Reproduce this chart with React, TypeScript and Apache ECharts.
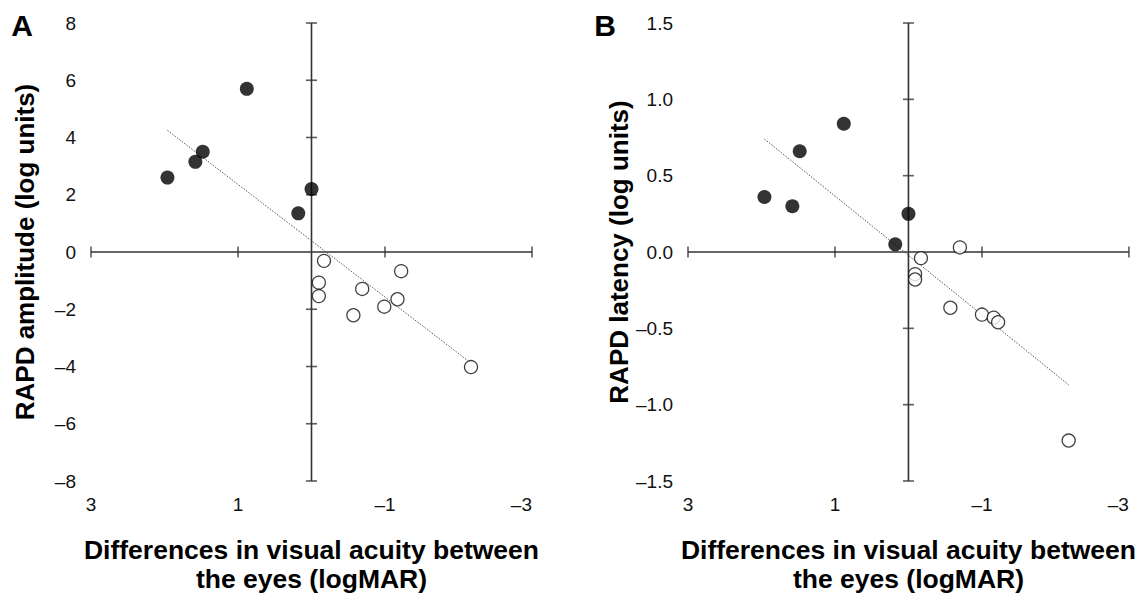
import React, { useEffect, useRef } from "react";
import * as echarts from "echarts";

// Tick values
const xTickValues = [3, 1, -1, -3];
const ampTickValues = [8, 6, 4, 2, -2, -4, -6, -8];
const latTickValues = [1.5, 1.0, 0.5, -0.5, -1.0, -1.5];

// Filled circles (same eyes in both panels)
const filledVA = [1.96, 1.58, 1.48, 0.88, 0.18, 0.0];
const filledAmp = [2.6, 3.15, 3.5, 5.7, 1.35, 2.2];
const filledLat = [0.36, 0.3, 0.66, 0.84, 0.05, 0.25];

// Open circles
const hollowVA_A = [-0.17, -1.22, -0.1, -0.1, -0.69, -1.17, -0.99, -0.57, -2.17];
const hollowAmp = [-0.31, -0.67, -1.07, -1.54, -1.29, -1.65, -1.91, -2.21, -4.02];
const hollowVA_B = [-0.7, -0.17, -0.09, -0.09, -0.57, -1.0, -1.16, -1.22, -2.18];
const hollowLat = [0.03, -0.04, -0.145, -0.18, -0.365, -0.41, -0.43, -0.46, -1.235];

// Regression lines (end points)
const trendVA_A = [1.96, -2.13];
const trendAmp = [4.25, -3.8];
const trendVA_B = [1.96, -2.18];
const trendLat = [0.74, -0.87];

const FONT = "'Liberation Sans', Arial, Helvetica, sans-serif";
const AXIS_COLOR = "#333";
const dash = (v: number, digits: number) => {
  const s = Math.abs(v).toFixed(digits);
  return v < -1e-9 ? "\u2013" + s : s;
};

function panel(idx: number, ticks: number[], ymin: number, ymax: number, yInt: number, digits: number,
  fVA: number[], fY: number[], hVA: number[], hY: number[], tVA: number[], tY: number[]) {
  const xAxis = {
    type: "value", gridIndex: idx, min: -3, max: 3, interval: 1, inverse: true,
    axisLine: { show: false }, axisTick: { show: false }, splitLine: { show: false },
    axisLabel: {
      margin: 14, fontSize: 19, color: "#111", fontFamily: FONT,
      showMinLabel: true, showMaxLabel: true, alignMinLabel: "right",
      formatter: (v: number) => (Math.abs(Math.round(v)) % 2 === 1 ? dash(v, 0) : ""),
    },
    name: "Differences in visual acuity between\nthe eyes (logMAR)",
    nameLocation: "middle", nameGap: 54,
    nameTextStyle: { fontSize: 26.5, fontWeight: "bold", color: "#000", fontFamily: FONT, lineHeight: 29 },
  };
  const yAxis = {
    type: "value", gridIndex: idx, min: ymin, max: ymax, interval: yInt,
    axisLine: { show: false }, axisTick: { show: false }, splitLine: { show: false },
    axisLabel: {
      margin: 15, fontSize: 19, color: "#111", fontFamily: FONT,
      showMinLabel: true, showMaxLabel: true,
      formatter: (v: number) => dash(v, digits),
    },
    name: idx === 0 ? "RAPD amplitude (log units)" : "RAPD latency (log units)",
    nameLocation: "middle", nameRotate: 90, nameGap: 53,
    nameTextStyle: { fontSize: 26, fontWeight: "bold", color: "#000", fontFamily: FONT },
  };
  const base = { xAxisIndex: idx, yAxisIndex: idx, silent: true };
  const series: any[] = [
    { ...base, type: "line", data: [[3, 0], [-3, 0]], symbol: "none", lineStyle: { color: AXIS_COLOR, width: 1.6 }, z: 1 },
    { ...base, type: "line", data: [[0, ymax], [0, ymin]], symbol: "none", lineStyle: { color: AXIS_COLOR, width: 1.6 }, z: 1 },
    { ...base, type: "scatter", data: xTickValues.map((v) => [v, 0]), symbol: "rect", symbolSize: [1.6, 11], itemStyle: { color: AXIS_COLOR }, z: 1 },
    { ...base, type: "scatter", data: ticks.map((v) => [0, v]), symbol: "rect", symbolSize: [11, 1.6], itemStyle: { color: AXIS_COLOR }, z: 1 },
    { ...base, type: "line", data: tVA.map((v, i) => [v, tY[i]]), symbol: "none", lineStyle: { color: "#555", width: 1, type: [1.5, 1.5] }, z: 2 },
    { ...base, type: "scatter", data: hVA.map((v, i) => [v, hY[i]]), symbol: "circle", symbolSize: 13, itemStyle: { color: "#fff", borderColor: "#111", borderWidth: 1.3 }, z: 3 },
    { ...base, type: "scatter", data: fVA.map((v, i) => [v, fY[i]]), symbol: "circle", symbolSize: 14, itemStyle: { color: "#000" }, z: 3 },
  ];
  return { xAxis, yAxis, series };
}

export default function App() {
  const ref = useRef<HTMLDivElement>(null);
  useEffect(() => {
    document.body.style.margin = "0";
    const chart = echarts.init(ref.current!, undefined, { renderer: "svg" });
    const a = panel(0, ampTickValues, -8, 8, 2, 0, filledVA, filledAmp, hollowVA_A, hollowAmp, trendVA_A, trendAmp);
    const b = panel(1, latTickValues, -1.5, 1.5, 0.5, 1, filledVA, filledLat, hollowVA_B, hollowLat, trendVA_B, trendLat);
    chart.setOption({
      animation: false,
      backgroundColor: "#fff",
      grid: [
        { left: 91, top: 23, width: 441, height: 461 },
        { left: 688, top: 23, width: 442, height: 461 },
      ],
      xAxis: [a.xAxis, b.xAxis],
      yAxis: [a.yAxis, b.yAxis],
      series: [...a.series, ...b.series],
      graphic: [
        { type: "text", x: 22, y: 25, style: { text: "A", font: `bold 30px ${FONT}`, fill: "#000", align: "center", verticalAlign: "middle" } },
        { type: "text", x: 605, y: 25, style: { text: "B", font: `bold 30px ${FONT}`, fill: "#000", align: "center", verticalAlign: "middle" } },
      ],
    });
    return () => chart.dispose();
  }, []);
  return <div ref={ref} style={{ width: 1139, height: 598, position: "absolute", left: 0, top: 0 }} />;
}
